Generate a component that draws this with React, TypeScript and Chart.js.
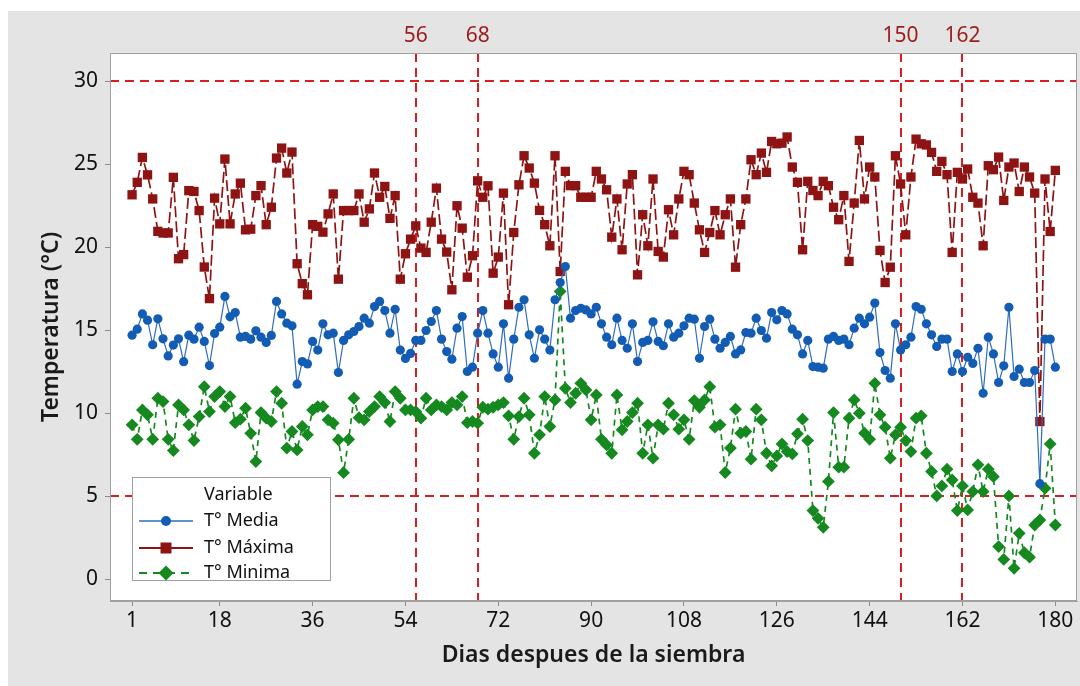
import React, { useEffect, useRef } from 'react';
import { Chart, registerables } from 'chart.js';

Chart.register(...registerables);

const days: number[] = Array.from({ length: 180 }, (_, i) => i + 1);

const tMedia: number[] = [
  14.7, 15.06, 15.98, 15.6, 14.12, 15.68, 14.48, 13.45, 14.1, 14.48,
  13.1, 14.7, 14.46, 15.18, 14.32, 12.87, 14.8, 15.18, 17.03, 15.8,
  16.06, 14.58, 14.62, 14.46, 14.96, 14.58, 14.26, 14.68, 16.73, 15.98,
  15.42, 15.26, 11.75, 13.11, 12.97, 14.32, 13.8, 15.38, 14.72, 14.82,
  12.45, 14.38, 14.72, 14.92, 15.22, 15.72, 15.42, 16.42, 16.73, 16.18,
  14.82, 16.26, 13.8, 13.3, 13.6, 14.38, 14.38, 14.98, 15.52, 16.18,
  14.46, 13.71, 13.25, 15.12, 15.82, 12.51, 12.77, 14.82, 16.18, 14.82,
  13.57, 12.77, 15.38, 12.11, 14.46, 16.38, 16.83, 14.72, 13.31, 15.02,
  14.46, 13.8, 16.83, 17.87, 18.83, 15.72, 16.18, 16.32, 16.22, 15.98,
  16.38, 15.38, 14.58, 14.12, 15.72, 14.38, 13.91, 15.38, 13.11, 14.26,
  14.38, 15.5, 14.32, 14.06, 15.38, 14.58, 14.82, 15.26, 15.72, 15.66,
  13.31, 15.22, 15.66, 14.46, 13.91, 14.26, 14.62, 13.57, 13.81, 14.86,
  14.82, 15.72, 14.98, 14.52, 16.06, 15.62, 16.18, 15.98, 15.06, 14.72,
  13.57, 14.38, 12.81, 12.77, 12.71, 14.46, 14.62, 14.38, 14.46, 14.12,
  15.12, 15.72, 15.38, 15.78, 16.63, 13.65, 12.57, 12.11, 15.38, 13.81,
  14.12, 14.58, 16.42, 16.26, 15.38, 14.72, 14.02, 14.46, 14.46, 12.51,
  13.57, 12.51, 13.37, 13.0, 13.91, 11.2, 14.58, 13.57, 11.85, 12.85,
  16.38, 12.21, 12.65, 11.85, 11.85, 12.57, 5.76, 14.46, 14.46, 12.77,
];

const tMaxima: number[] = [
  23.15, 23.9, 25.4, 24.35, 22.9, 20.95, 20.85, 20.85, 24.2, 19.3,
  19.55, 23.4, 23.35, 22.2, 18.8, 16.9, 22.95, 21.4, 25.3, 21.4,
  23.2, 23.85, 21.04, 21.08, 23.1, 23.7, 21.35, 22.4, 25.36, 25.96,
  24.46, 25.72, 19.0, 17.8, 17.13, 21.35, 21.25, 20.9, 22.0, 23.2,
  18.07, 22.2, 22.2, 22.2, 23.2, 21.5, 22.3, 24.46, 23.0, 23.65,
  21.73, 23.1, 18.07, 19.6, 20.48, 21.28, 19.94, 19.68, 21.5, 23.55,
  20.48, 19.7, 17.43, 22.49, 21.14, 18.19, 19.48, 23.99, 23.0, 23.69,
  18.43, 19.4, 23.25, 16.53, 20.88, 23.75, 25.5, 24.76, 23.85, 22.21,
  21.35, 20.08, 25.5, 18.53, 24.56, 23.7, 23.7, 23.0, 23.0, 23.0,
  24.56, 24.1, 23.45, 20.6, 22.9, 19.84, 23.8, 24.36, 18.33, 21.95,
  20.08, 24.1, 19.74, 19.4, 22.25, 20.74, 22.9, 24.56, 24.36, 22.65,
  21.04, 19.68, 20.88, 22.2, 20.74, 21.95, 22.9, 18.79, 21.35, 22.9,
  25.26, 24.36, 25.66, 24.5, 26.36, 26.22, 26.26, 26.63, 24.82, 23.9,
  19.84, 23.96, 23.41, 23.1, 23.96, 23.7, 22.4, 21.65, 23.1, 19.14,
  22.65, 26.42, 22.9, 24.82, 24.22, 19.8, 17.87, 18.79, 25.5, 23.8,
  20.74, 24.22, 26.5, 26.22, 26.15, 25.7, 24.56, 25.16, 24.36, 19.68,
  24.5, 24.1, 24.7, 23.0, 22.65, 20.08, 24.9, 24.66, 25.42, 22.81,
  24.82, 25.06, 23.35, 24.82, 24.22, 23.25, 9.5, 24.1, 20.94, 24.62,
];

const tMinima: number[] = [
  9.3, 8.43, 10.2, 9.9, 8.43, 10.9, 10.7, 8.43, 7.75, 10.5,
  10.2, 9.3, 8.35, 9.8, 11.6, 10.1, 11.0, 11.3, 10.4, 11.0,
  9.43, 9.64, 10.3, 8.79, 7.09, 10.04, 9.7, 9.5, 11.3, 10.6,
  7.9, 8.9, 7.79, 9.2, 8.7, 10.2, 10.4, 10.4, 9.6, 9.4,
  8.4, 6.42, 8.43, 10.9, 9.73, 9.6, 10.1, 10.4, 11.0, 10.64,
  9.5, 11.3, 10.9, 10.2, 10.2, 10.1, 9.7, 10.9, 10.2, 10.5,
  10.4, 10.2, 10.64, 10.5, 11.0, 9.43, 9.5, 9.4, 10.36, 10.24,
  10.36, 10.5, 10.64, 9.84, 8.43, 9.8, 10.9, 9.9, 7.59, 8.7,
  11.0, 9.2, 10.8, 17.33, 11.5, 10.64, 11.2, 11.8, 11.4, 9.6,
  11.1, 8.43, 8.09, 7.59, 11.1, 9.0, 9.5, 10.04, 10.6, 7.59,
  9.3, 7.29, 9.3, 9.04, 10.6, 9.9, 9.04, 9.6, 8.43, 10.76,
  10.36, 10.8, 11.6, 9.16, 9.3, 6.43, 7.9, 10.24, 8.8, 8.9,
  7.23, 10.24, 9.6, 7.59, 6.83, 7.43, 8.15, 7.69, 7.55, 8.76,
  9.64, 8.35, 4.14, 3.67, 3.13, 5.89, 10.04, 6.75, 6.75, 9.7,
  10.8, 10.0, 8.8, 8.43, 11.8, 9.9, 9.16, 7.29, 8.7, 9.16,
  8.35, 7.69, 9.7, 9.84, 7.59, 6.49, 5.02, 5.62, 6.63, 5.98,
  4.14, 5.62, 4.18, 5.28, 6.89, 5.28, 6.63, 6.18, 1.97, 1.2,
  5.02, 0.66, 2.77, 1.6, 1.33, 3.27, 3.57, 5.48, 8.15, 3.27,
];

const seriesNames: string[] = ['T° Media', 'T° Máxima', 'T° Minima'];
const xTicks: number[] = [1, 18, 36, 54, 72, 90, 108, 126, 144, 162, 180];
const yTicks: number[] = [0, 5, 10, 15, 20, 25, 30];
const refDays: number[] = [56, 68, 150, 162];
const refTemps: number[] = [5, 30];

const FONT = '"Noto Sans", "Open Sans", "DejaVu Sans", sans-serif';
const BLUE = '#135cb3';
const BLUE_LINE = '#2d6cc0';
const RED = '#8e1414';
const GREEN = '#15891f';
const REF = '#d81e1e';

const deco = {
  id: 'deco',
  beforeDraw(chart: any) {
    const { ctx, chartArea: ca, width, height } = chart;
    ctx.save();
    ctx.fillStyle = '#ffffff';
    ctx.fillRect(0, 0, width, height);
    ctx.fillStyle = '#e4e4e4';
    ctx.fillRect(8, 11, width - 8, height - 11);
    ctx.fillStyle = '#ffffff';
    ctx.fillRect(ca.left, ca.top, ca.right - ca.left, ca.bottom - ca.top);
    ctx.restore();
  },
  beforeDatasetsDraw(chart: any) {
    const { ctx, chartArea: ca } = chart;
    const xs = chart.scales.x;
    const ys = chart.scales.y;
    ctx.save();
    ctx.strokeStyle = REF;
    ctx.lineWidth = 2;
    ctx.setLineDash([9, 6]);
    for (const d of refDays) {
      const px = Math.round(xs.getPixelForValue(d));
      ctx.beginPath();
      ctx.moveTo(px, ca.top);
      ctx.lineTo(px, ca.bottom);
      ctx.stroke();
    }
    for (const t of refTemps) {
      const py = Math.round(ys.getPixelForValue(t));
      ctx.beginPath();
      ctx.moveTo(ca.left, py);
      ctx.lineTo(ca.right, py);
      ctx.stroke();
    }
    ctx.setLineDash([]);
    ctx.fillStyle = '#9b1c1c';
    ctx.font = `21px ${FONT}`;
    ctx.textAlign = 'center';
    ctx.textBaseline = 'middle';
    for (const d of refDays) {
      ctx.fillText(String(d), xs.getPixelForValue(d), 36);
    }
    ctx.restore();
  },
  afterDatasetsDraw(chart: any) {
    const { ctx, chartArea: ca } = chart;
    ctx.save();
    // plot frame
    ctx.strokeStyle = '#a0a0a0';
    ctx.lineWidth = 1;
    ctx.strokeRect(ca.left + 0.5, ca.top + 0.5, ca.right - ca.left - 1, ca.bottom - ca.top - 1);

    // axis titles
    ctx.fillStyle = '#1a1a1a';
    ctx.font = `600 23px ${FONT}`;
    ctx.textAlign = 'center';
    ctx.textBaseline = 'middle';
    ctx.fillText('Dias despues de la siembra', (ca.left + ca.right) / 2, 655);
    ctx.save();
    ctx.translate(51, (ca.top + ca.bottom) / 2);
    ctx.rotate(-Math.PI / 2);
    ctx.fillText('Temperatura (°C)', 0, 0);
    ctx.restore();

    // legend
    const lx = 132, ly = 477, lw = 198, lh = 103;
    ctx.fillStyle = '#ffffff';
    ctx.fillRect(lx, ly, lw, lh);
    ctx.strokeStyle = '#a0a0a0';
    ctx.strokeRect(lx + 0.5, ly + 0.5, lw, lh);
    ctx.fillStyle = '#111';
    ctx.font = `18px ${FONT}`;
    ctx.textAlign = 'left';
    ctx.fillText('Variable', 204, 495);
    const rows = [
      { name: seriesNames[0], y: 521, color: BLUE, line: BLUE_LINE, dash: [] as number[], w: 1.4, style: 'circle', r: 5 },
      { name: seriesNames[1], y: 548, color: RED, line: RED, dash: [] as number[], w: 2, style: 'rect', r: 7 },
      { name: seriesNames[2], y: 573, color: GREEN, line: GREEN, dash: [8, 6], w: 2, style: 'rectRot', r: 7 },
    ];
    for (const r of rows) {
      ctx.strokeStyle = r.line;
      ctx.lineWidth = r.w;
      ctx.setLineDash(r.dash);
      ctx.beginPath();
      ctx.moveTo(139, r.y);
      ctx.lineTo(193, r.y);
      ctx.stroke();
      ctx.setLineDash([]);
      ctx.fillStyle = r.color;
      ctx.beginPath();
      if (r.style === 'circle') {
        ctx.arc(166, r.y, r.r, 0, Math.PI * 2);
      } else if (r.style === 'rect') {
        ctx.rect(166 - 5.5, r.y - 5.5, 11, 11);
      } else {
        ctx.moveTo(166, r.y - 7.5);
        ctx.lineTo(173.5, r.y);
        ctx.lineTo(166, r.y + 7.5);
        ctx.lineTo(158.5, r.y);
        ctx.closePath();
      }
      ctx.fill();
      ctx.fillStyle = '#111';
      ctx.fillText(r.name, 204, r.y);
    }
    ctx.restore();
  },
};

export default function App() {
  const ref = useRef<HTMLCanvasElement>(null);
  useEffect(() => {
    const canvas = ref.current;
    if (!canvas) return;
    const mk = (vals: number[]) => vals.map((v, i) => ({ x: days[i], y: v }));
    const chart = new Chart(canvas, {
      type: 'line',
      data: {
        datasets: [
          {
            label: seriesNames[0],
            data: mk(tMedia),
            borderColor: BLUE_LINE,
            backgroundColor: BLUE,
            borderWidth: 1.2,
            pointStyle: 'circle',
            pointRadius: 4.6,
            pointBorderWidth: 0,
            pointBackgroundColor: BLUE,
            pointBorderColor: BLUE,
            tension: 0,
          },
          {
            label: seriesNames[1],
            data: mk(tMaxima),
            borderColor: RED,
            backgroundColor: RED,
            borderWidth: 1.7,
            borderDash: [11, 4],
            pointStyle: 'rect',
            pointRadius: 6.6,
            pointBorderWidth: 0,
            pointBackgroundColor: RED,
            pointBorderColor: RED,
            tension: 0,
          },
          {
            label: seriesNames[2],
            data: mk(tMinima),
            borderColor: GREEN,
            backgroundColor: GREEN,
            borderWidth: 1.7,
            borderDash: [6, 5],
            pointStyle: 'rectRot',
            pointRadius: 6.4,
            pointBorderWidth: 0,
            pointBackgroundColor: GREEN,
            pointBorderColor: GREEN,
            tension: 0,
          },
        ],
      },
      options: {
        responsive: false,
        animation: false,
        devicePixelRatio: 1,
        layout: { autoPadding: false, padding: { top: 53, right: 3, left: 0, bottom: 0 } },
        plugins: {
          legend: { display: false },
          tooltip: { enabled: false },
          title: { display: false },
        },
        scales: {
          x: {
            type: 'linear',
            min: -3.28,
            max: 184.2,
            afterBuildTicks: (s: any) => {
              s.ticks = xTicks.map((v) => ({ value: v }));
            },
            afterFit: (s: any) => {
              s.height = 85;
              s.paddingLeft = 0;
              s.paddingRight = 0;
            },
            grid: { drawOnChartArea: false, drawTicks: true, tickLength: 5, tickColor: '#8c8c8c', tickWidth: 1 },
            border: { display: true, color: '#a0a0a0' },
            ticks: {
              font: { family: FONT, size: 21 },
              color: '#111',
              padding: 2,
              autoSkip: false,
              maxRotation: 0,
              minRotation: 0,
              callback: (v: any) => String(v),
            },
          },
          y: {
            type: 'linear',
            min: -1.306,
            max: 31.686,
            afterBuildTicks: (s: any) => {
              s.ticks = yTicks.map((v) => ({ value: v }));
            },
            afterFit: (s: any) => {
              s.width = 110;
              s.paddingTop = 0;
              s.paddingBottom = 0;
            },
            grid: { drawOnChartArea: false, drawTicks: true, tickLength: 5, tickColor: '#8c8c8c', tickWidth: 1 },
            border: { display: true, color: '#a0a0a0' },
            ticks: {
              font: { family: FONT, size: 21 },
              color: '#111',
              padding: 7,
              callback: (v: any) => String(v),
            },
          },
        },
      },
      plugins: [deco],
    } as any);
    return () => chart.destroy();
  }, []);
  return (
    <div style={{ position: 'absolute', left: 0, top: 0, width: 1080, height: 686 }}>
      <canvas ref={ref} width={1080} height={686} style={{ display: 'block', width: 1080, height: 686 }} />
    </div>
  );
}
